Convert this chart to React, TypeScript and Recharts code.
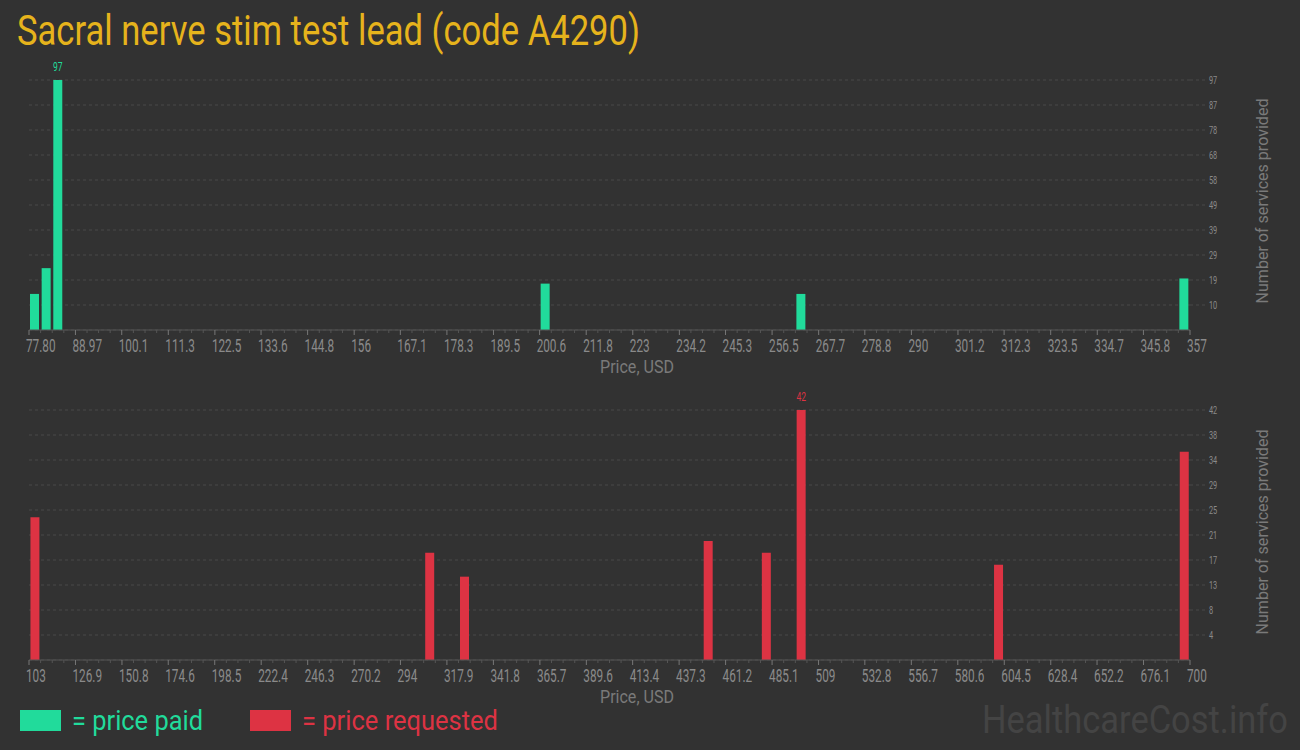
import React from 'react';
import { BarChart, Bar, XAxis, YAxis, CartesianGrid, LabelList } from 'recharts';

// ---------- data ----------
const paidPrices = [79.2, 82.0, 84.8, 202.0, 263.5, 355.6];
const paidCounts = [14, 24, 97, 18, 14, 20];

const requestedPrices = [106.0, 309.0, 326.9, 452.2, 482.1, 500.0, 601.5, 697.0];
const requestedCounts = [24, 18, 14, 20, 18, 42, 16, 35];

const paidXTicks = [77.8, 88.97, 100.1, 111.3, 122.5, 133.6, 144.8, 156, 167.1, 178.3, 189.5, 200.6, 211.8, 223, 234.2, 245.3, 256.5, 267.7, 278.8, 290, 301.2, 312.3, 323.5, 334.7, 345.8, 357];
const paidXLabels = ['77.80', '88.97', '100.1', '111.3', '122.5', '133.6', '144.8', '156', '167.1', '178.3', '189.5', '200.6', '211.8', '223', '234.2', '245.3', '256.5', '267.7', '278.8', '290', '301.2', '312.3', '323.5', '334.7', '345.8', '357'];

const requestedXTicks = [103, 126.9, 150.8, 174.6, 198.5, 222.4, 246.3, 270.2, 294, 317.9, 341.8, 365.7, 389.6, 413.4, 437.3, 461.2, 485.1, 509, 532.8, 556.7, 580.6, 604.5, 628.4, 652.2, 676.1, 700];
const requestedXLabels = ['103', '126.9', '150.8', '174.6', '198.5', '222.4', '246.3', '270.2', '294', '317.9', '341.8', '365.7', '389.6', '413.4', '437.3', '461.2', '485.1', '509', '532.8', '556.7', '580.6', '604.5', '628.4', '652.2', '676.1', '700'];

const paidYTicks = [9.7, 19.4, 29.1, 38.8, 48.5, 58.2, 67.9, 77.6, 87.3, 97];
const requestedYTicks = [4.2, 8.4, 12.6, 16.8, 21, 25.2, 29.4, 33.6, 37.8, 42];

// ---------- style ----------
const BG = '#323232';
const GREEN = '#21db9b';
const RED = '#dd3343';
const GOLD = '#e6b31c';
const TICK_COLOR = '#8a8a8a';
const LABEL_COLOR = '#7a7a7a';
const GRID = '#484848';
const FONT = 'Roboto';

const paidData = paidPrices.map((p, i) => ({ price: p, count: paidCounts[i] }));
const requestedData = requestedPrices.map((p, i) => ({ price: p, count: requestedCounts[i] }));

function withMinor(ticks: number[]) {
  const out: number[] = [];
  for (let i = 0; i < ticks.length - 1; i++) {
    const a = ticks[i];
    const b = ticks[i + 1];
    for (let j = 0; j < 4; j++) out.push(a + ((b - a) * j) / 4);
  }
  out.push(ticks[ticks.length - 1]);
  return out;
}

const makeXTick = (labels: string[]) => (props: any) => {
  const { x, y, index } = props;
  const major = index % 4 === 0;
  return (
    <g>
      <line x1={x} x2={x} y1={y} y2={y + (major ? 5 : 3)} stroke={major ? '#777' : '#555'} strokeWidth={1} />
      {major && (
        <text
          transform={`translate(${x - 3},${y + 22}) scale(0.62,1)`}
          fill={TICK_COLOR}
          fontSize={19}
          fontFamily={FONT}
        >
          {labels[index / 4]}
        </text>
      )}
    </g>
  );
};

const YTick = (props: any) => {
  const { x, y, payload } = props;
  return (
    <text transform={`translate(${x},${y + 3.8}) scale(0.7,1)`} fill={TICK_COLOR} fontSize={10.5} fontFamily={FONT}>
      {Math.round(payload.value)}
    </text>
  );
};

const makeMaxLabel = (max: number, color: string) => (props: any) => {
  const { x, y, width, value } = props;
  if (value !== max) return null;
  return (
    <text
      transform={`translate(${x + width / 2},${y - 9}) scale(0.68,1)`}
      textAnchor="middle"
      fill={color}
      fontSize={12.5}
      fontFamily={FONT}
    >
      {value}
    </text>
  );
};

function Histogram(props: {
  data: { price: number; count: number }[];
  xTicks: number[];
  xLabels: string[];
  yTicks: number[];
  color: string;
}) {
  const { data, xTicks, xLabels, yTicks, color } = props;
  const max = Math.max(...data.map((d) => d.count));
  return (
    <BarChart
      width={1300}
      height={390}
      data={data}
      margin={{ top: 80, right: 15, bottom: 20, left: 29 }}
    >
      <CartesianGrid horizontal vertical={false} stroke={GRID} strokeDasharray="3 3" />
      <XAxis
        dataKey="price"
        type="number"
        domain={[xTicks[0], xTicks[xTicks.length - 1]]}
        ticks={withMinor(xTicks)}
        interval={0}
        height={40}
        axisLine={{ stroke: '#555' }}
        tickLine={false}
        tickSize={0}
        tickMargin={0}
        tick={makeXTick(xLabels)}
        allowDataOverflow
      />
      <YAxis
        orientation="right"
        type="number"
        domain={[0, yTicks[yTicks.length - 1]]}
        ticks={yTicks}
        interval={0}
        width={95}
        axisLine={false}
        tickLine={{ stroke: GRID, strokeDasharray: '3 3' }}
        tickSize={15}
        tickMargin={4}
        tick={YTick}
      />
      <Bar dataKey="count" fill={color} barSize={9} isAnimationActive={false}>
        <LabelList dataKey="count" content={makeMaxLabel(max, color)} />
      </Bar>
    </BarChart>
  );
}

export default function App() {
  return (
    <div
      style={{
        position: 'absolute',
        left: 0,
        top: 0,
        width: 1300,
        height: 750,
        background: BG,
        overflow: 'hidden',
      }}
    >
      <div style={{ position: 'absolute', left: 0, top: 0 }}>
        <Histogram data={paidData} xTicks={paidXTicks} xLabels={paidXLabels} yTicks={paidYTicks} color={GREEN} />
      </div>
      <div style={{ position: 'absolute', left: 0, top: 330 }}>
        <Histogram
          data={requestedData}
          xTicks={requestedXTicks}
          xLabels={requestedXLabels}
          yTicks={requestedYTicks}
          color={RED}
        />
      </div>
      <svg
        width={1300}
        height={750}
        style={{ position: 'absolute', left: 0, top: 0, pointerEvents: 'none' }}
      >
        <text x={17} y={45} fill={GOLD} fontSize={42} fontFamily={FONT} textLength={623} lengthAdjust="spacingAndGlyphs">
          Sacral nerve stim test lead (code A4290)
        </text>

        <text x={637} y={373} fill={LABEL_COLOR} fontSize={18} fontFamily={FONT} textAnchor="middle" textLength={74} lengthAdjust="spacingAndGlyphs">
          Price, USD
        </text>
        <text x={637} y={703} fill={LABEL_COLOR} fontSize={18} fontFamily={FONT} textAnchor="middle" textLength={74} lengthAdjust="spacingAndGlyphs">
          Price, USD
        </text>

        <text transform="translate(1268,201) rotate(-90)" fill={LABEL_COLOR} fontSize={17} fontFamily={FONT} textAnchor="middle" textLength={205} lengthAdjust="spacingAndGlyphs">
          Number of services provided
        </text>
        <text transform="translate(1268,532) rotate(-90)" fill={LABEL_COLOR} fontSize={17} fontFamily={FONT} textAnchor="middle" textLength={205} lengthAdjust="spacingAndGlyphs">
          Number of services provided
        </text>

        <rect x={20} y={710} width={41} height={21} fill={GREEN} />
        <text x={72} y={730} fill={GREEN} fontSize={28} fontFamily={FONT} textLength={131} lengthAdjust="spacingAndGlyphs">
          = price paid
        </text>
        <rect x={250} y={710} width={41} height={21} fill={RED} />
        <text x={302} y={730} fill={RED} fontSize={28} fontFamily={FONT} textLength={196} lengthAdjust="spacingAndGlyphs">
          = price requested
        </text>

        <text transform="translate(982,733) scale(0.884,1)" fill="#444444" fontSize={39} fontFamily={FONT}>
          HealthcareCost.info
        </text>
      </svg>
    </div>
  );
}
